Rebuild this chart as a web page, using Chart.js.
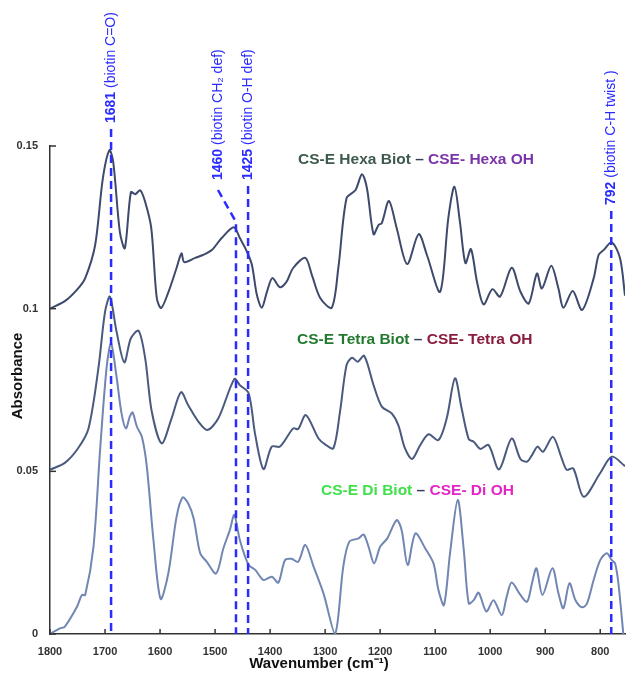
<!DOCTYPE html>
<html>
<head>
<meta charset="utf-8">
<script src="https://cdn.jsdelivr.net/npm/chart.js@4/dist/chart.umd.min.js"></script>
<style>
  html, body { margin: 0; padding: 0; background: #fff; }
  #wrap { width: 627px; height: 673px; }
</style>
</head>
<body>
<div id="wrap"><canvas id="ftir"></canvas></div>
<script>
// spectra (wavenumber cm-1, absorbance)
const hexaWave = [1800,1773,1750,1736,1718,1704,1692,1685,1673,1664,1653,1645,1636,1627,1616,1606,1598,1585,1570,1561,1556,1536,1522,1506,1488,1466,1455,1442,1433,1424,1415,1406,1396,1382,1370,1358,1336,1324,1309,1288,1276,1261,1245,1233,1224,1212,1203,1197,1184,1170,1151,1130,1115,1091,1076,1065,1055,1045,1035,1024,1012,996,982,961,945,930,915,906,889,876,867,850,833,812,803,794,779,764,755];
const hexaAbs = [0.1000,0.1023,0.1060,0.1094,0.1195,0.1400,0.1487,0.1450,0.1235,0.1186,0.1358,0.1352,0.1364,0.1328,0.1248,0.1033,0.1002,0.1050,0.1125,0.1170,0.1143,0.1156,0.1165,0.1180,0.1217,0.1250,0.1217,0.1175,0.1134,0.1042,0.1003,0.1050,0.1094,0.1066,0.1083,0.1125,0.1156,0.1103,0.1033,0.1003,0.1125,0.1340,0.1364,0.1413,0.1370,0.1229,0.1257,0.1263,0.1331,0.1248,0.1137,0.1229,0.1165,0.1052,0.1280,0.1375,0.1267,0.1140,0.1183,0.1083,0.1013,0.1060,0.1037,0.1126,0.1052,0.1016,0.1108,0.1062,0.1132,0.1062,0.1003,0.1054,0.0996,0.1093,0.1165,0.1180,0.1204,0.1155,0.1040];

const tetraWave = [1800,1773,1749,1730,1712,1700,1691,1679,1665,1653,1639,1627,1615,1597,1579,1562,1549,1530,1514,1494,1465,1455,1439,1427,1412,1397,1382,1358,1349,1335,1312,1300,1285,1273,1261,1251,1241,1229,1212,1197,1179,1167,1155,1142,1127,1112,1094,1079,1064,1052,1039,1030,1018,1003,984,961,945,933,924,914,904,886,870,861,849,830,800,779,755];
const tetraAbs = [0.0505,0.0526,0.0571,0.0632,0.0817,0.0990,0.1037,0.0929,0.0835,0.0909,0.0932,0.0847,0.0683,0.0586,0.0663,0.0743,0.0704,0.0652,0.0627,0.0663,0.0784,0.0765,0.0740,0.0612,0.0507,0.0576,0.0576,0.0632,0.0630,0.0673,0.0601,0.0583,0.0571,0.0683,0.0827,0.0849,0.0837,0.0855,0.0765,0.0699,0.0678,0.0642,0.0571,0.0538,0.0581,0.0614,0.0596,0.0663,0.0786,0.0694,0.0599,0.0591,0.0569,0.0581,0.0506,0.0601,0.0538,0.0530,0.0550,0.0576,0.0560,0.0606,0.0540,0.0505,0.0509,0.0422,0.0495,0.0545,0.0516];

const diWave = [1800,1782,1773,1751,1742,1736,1721,1709,1697,1689,1679,1670,1662,1655,1650,1642,1633,1624,1612,1599,1585,1570,1559,1549,1539,1527,1515,1498,1485,1473,1465,1455,1439,1427,1412,1397,1385,1373,1361,1349,1336,1321,1303,1282,1267,1256,1239,1230,1221,1211,1200,1187,1170,1161,1150,1136,1118,1103,1094,1084,1073,1059,1048,1039,1030,1021,1007,994,979,970,961,945,933,924,916,905,887,876,867,856,845,833,824,812,800,788,779,773,767,758];
const diAbs = [0.0000,0.0017,0.0023,0.0084,0.0120,0.0120,0.0268,0.0565,0.0821,0.0893,0.0790,0.0678,0.0632,0.0668,0.0681,0.0637,0.0606,0.0514,0.0289,0.0108,0.0186,0.0360,0.0420,0.0402,0.0356,0.0248,0.0222,0.0186,0.0263,0.0320,0.0366,0.0289,0.0212,0.0197,0.0166,0.0176,0.0158,0.0227,0.0231,0.0222,0.0274,0.0207,0.0125,0.0000,0.0207,0.0284,0.0294,0.0306,0.0268,0.0217,0.0268,0.0294,0.0350,0.0320,0.0212,0.0309,0.0263,0.0217,0.0135,0.0089,0.0248,0.0412,0.0258,0.0094,0.0104,0.0127,0.0069,0.0104,0.0058,0.0115,0.0158,0.0120,0.0099,0.0156,0.0202,0.0120,0.0202,0.0125,0.0079,0.0156,0.0104,0.0082,0.0094,0.0166,0.0227,0.0248,0.0227,0.0217,0.0156,0.0000];

// band markers (position on the plot, bold number, description)
const markerPos = [1689, 1462, 1440, 780];
const markerNum = ["1681", "1460", "1425", "792"];
const markerText = ["(biotin C=O)", "(biotin CH\u2082 def)", "(biotin O-H def)", "(biotin C-H twist )"];

const xTicks = [1800, 1700, 1600, 1500, 1400, 1300, 1200, 1100, 1000, 900, 800];
const yTicks = [0, 0.05, 0.1, 0.15];

const FONT = "'Liberation Sans', Arial, sans-serif";
const BLUE = "#2a2cff";

const toPts = (w, a) => w.map((v, i) => ({ x: v, y: a[i] }));

// spectrum captions, drawn as colored runs
const captions = [
  { x: 298, y: 160, runs: [["CS-E Hexa Biot", "#3e5a4c"], [" \u2013 ", "#3a3f5c"], ["CSE- Hexa OH", "#7a34a8"]] },
  { x: 297, y: 340, runs: [["CS-E Tetra Biot", "#237a2e"], [" \u2013 ", "#3a3f5c"], ["CSE- Tetra OH", "#8a1c3e"]] },
  { x: 321, y: 491, runs: [["CS-E Di Biot", "#3fe04a"], [" \u2013 ", "#3a3f5c"], ["CSE- Di OH", "#e324c8"]] },
];

const overlay = {
  id: "overlay",
  afterDraw(chart) {
    const ctx = chart.ctx;
    const xs = chart.scales.x, ys = chart.scales.y;
    const area = chart.chartArea;
    ctx.save();

    // inward tick marks
    ctx.strokeStyle = "#333";
    ctx.lineWidth = 1.5;
    yTicks.forEach((t) => {
      const py = ys.getPixelForValue(t);
      ctx.beginPath(); ctx.moveTo(area.left, py); ctx.lineTo(area.left + 6, py); ctx.stroke();
    });
    xTicks.forEach((t) => {
      const px = xs.getPixelForValue(t);
      ctx.beginPath(); ctx.moveTo(px, area.bottom); ctx.lineTo(px, area.bottom - 5); ctx.stroke();
    });

    // dashed band markers
    const textBottom = [123, 180, 180, 205];
    const labelShift = [0, -18, 0, 0];
    ctx.strokeStyle = BLUE;
    ctx.lineWidth = 2.5;
    ctx.setLineDash([8, 5]);
    markerPos.forEach((w, i) => {
      const px = xs.getPixelForValue(w);
      const lx = px + labelShift[i];
      ctx.beginPath();
      if (labelShift[i] !== 0) {
        ctx.moveTo(lx, textBottom[i] + 10);
        ctx.lineTo(px, 222);
        ctx.lineTo(px, area.bottom);
      } else {
        ctx.moveTo(px, textBottom[i] + 6);
        ctx.lineTo(px, area.bottom);
      }
      ctx.stroke();
    });
    ctx.setLineDash([]);

    // rotated marker labels
    markerPos.forEach((w, i) => {
      const lx = xs.getPixelForValue(w) + labelShift[i];
      ctx.save();
      ctx.translate(lx, textBottom[i]);
      ctx.rotate(-Math.PI / 2);
      ctx.textBaseline = "middle";
      ctx.textAlign = "left";
      ctx.fillStyle = BLUE;
      ctx.font = "bold 14px " + FONT;
      const num = markerNum[i] + " ";
      ctx.fillText(num, 0, 0);
      const nw = ctx.measureText(num).width;
      ctx.font = "14px " + FONT;
      ctx.fillText(markerText[i], nw, 0);
      ctx.restore();
    });

    // captions
    ctx.font = "bold 15.5px " + FONT;
    ctx.textBaseline = "middle";
    ctx.textAlign = "left";
    captions.forEach((c) => {
      let cx = c.x;
      c.runs.forEach(([txt, col]) => {
        ctx.fillStyle = col;
        ctx.fillText(txt, cx, c.y);
        cx += ctx.measureText(txt).width;
      });
    });

    // axis titles
    ctx.fillStyle = "#111";
    ctx.font = "bold 15px " + FONT;
    ctx.textAlign = "center";
    ctx.fillText("Wavenumber (cm\u207B\u00B9)", 319, 664);
    ctx.save();
    ctx.translate(18, 376);
    ctx.rotate(-Math.PI / 2);
    ctx.fillText("Absorbance", 0, 0);
    ctx.restore();

    ctx.restore();
  },
};

const lineStyle = (color) => ({
  borderColor: color,
  borderWidth: 2,
  pointRadius: 0,
  fill: false,
  tension: 0.3,
});

new Chart(document.getElementById("ftir"), {
  type: "line",
  data: {
    datasets: [
      { data: toPts(hexaWave, hexaAbs), ...lineStyle("#3d4a6c") },
      { data: toPts(tetraWave, tetraAbs), ...lineStyle("#4a5a7e") },
      { data: toPts(diWave, diAbs), ...lineStyle("#7186b2") },
    ],
  },
  options: {
    responsive: true,
    maintainAspectRatio: false,
    animation: false,
    layout: { padding: { top: 146, right: 2, left: 0, bottom: 0 } },
    plugins: { legend: { display: false }, tooltip: { enabled: false } },
    scales: {
      x: {
        type: "linear",
        reverse: true,
        min: 755,
        max: 1800,
        grid: { display: false },
        border: { display: true, color: "#333", width: 1.5 },
        afterFit: (s) => { s.height = 39; },
        afterBuildTicks: (s) => { s.ticks = xTicks.map((v) => ({ value: v })); },
        ticks: {
          color: "#333",
          font: { family: FONT, size: 11, weight: "bold" },
          padding: 3,
          maxRotation: 0,
          callback: (v) => String(v),
        },
      },
      y: {
        min: 0,
        max: 0.15,
        grid: { display: false },
        border: { display: true, color: "#333", width: 1.5 },
        afterFit: (s) => { s.width = 50; },
        afterBuildTicks: (s) => { s.ticks = yTicks.map((v) => ({ value: v })); },
        ticks: {
          color: "#333",
          font: { family: FONT, size: 11, weight: "bold" },
          padding: 4,
          callback: (v) => String(+v.toFixed(2)),
        },
      },
    },
  },
  plugins: [overlay],
});
</script>
</body>
</html>
